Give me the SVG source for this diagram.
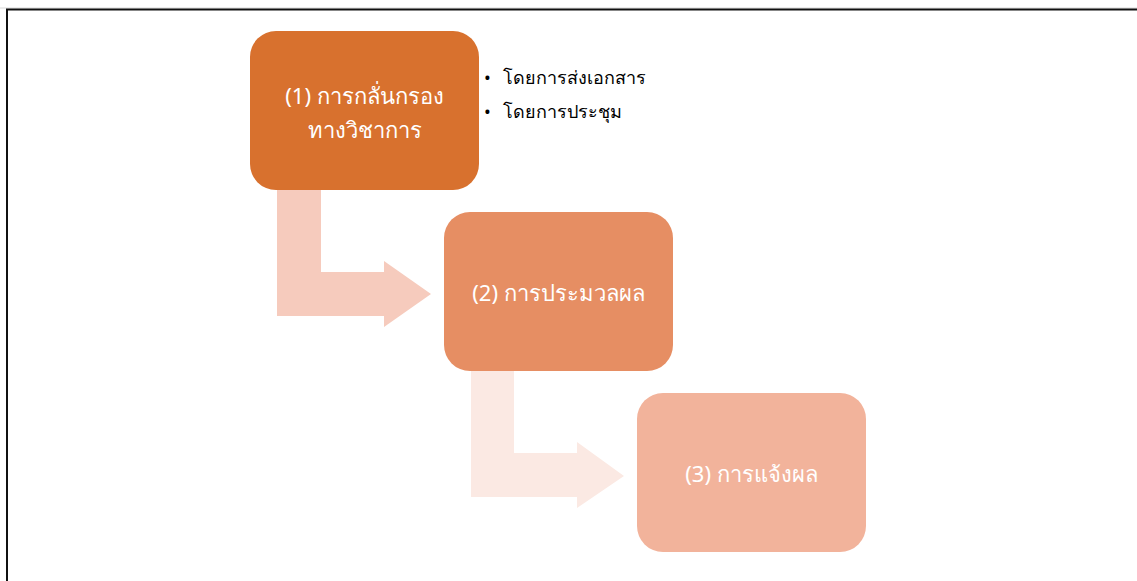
<svg xmlns="http://www.w3.org/2000/svg" width="1137" height="581" viewBox="0 0 1137 581">
  <style>
    .box-label { font-family: "Noto Sans", "Liberation Sans", sans-serif; font-size: 22px; fill: #ffffff; text-anchor: middle; }
    .note { font-family: "Noto Sans", "Liberation Sans", sans-serif; font-size: 18px; fill: #000000; }
  </style>
  <rect width="1137" height="581" fill="#ffffff"/>
  <!-- page frame -->
  <line x1="0" y1="8" x2="1137" y2="8" stroke="#d8d8d8" stroke-width="1"/>
  <polyline points="7,581 7,9.5 1137,9.5" fill="none" stroke="#111111" stroke-width="2"/>

  <!-- bent connector arrows -->
  <g id="connectors">
    <path d="M277,190 H321 V272 H384 V261 L431,294 L384,327 V316 H277 Z" fill="#f6cbbd"/>
    <path d="M471,371 H514 V453 H577 V442 L624,476 L577,508 V497 H471 Z" fill="#fbe9e3"/>
  </g>

  <g id="step1">
    <rect x="250" y="31" width="229" height="159" rx="26" fill="#d8712e"/>
    <text class="box-label" x="364.5" y="104">(1) การกลั่นกรอง</text>
    <text class="box-label" x="364.5" y="138">ทางวิชาการ</text>
  </g>

  <g id="step1-notes">
    <text class="note" x="484" y="84">•</text>
    <text class="note" x="503" y="84">โดยการส่งเอกสาร</text>
    <text class="note" x="484" y="118">•</text>
    <text class="note" x="503" y="118">โดยการประชุม</text>
  </g>

  <g id="step2">
    <rect x="444" y="212" width="229" height="159" rx="26" fill="#e68e63"/>
    <text class="box-label" x="558.5" y="301">(2) การประมวลผล</text>
  </g>

  <g id="step3">
    <rect x="637" y="393" width="229" height="159" rx="26" fill="#f2b39b"/>
    <text class="box-label" x="751.5" y="482">(3) การแจ้งผล</text>
  </g>
</svg>
